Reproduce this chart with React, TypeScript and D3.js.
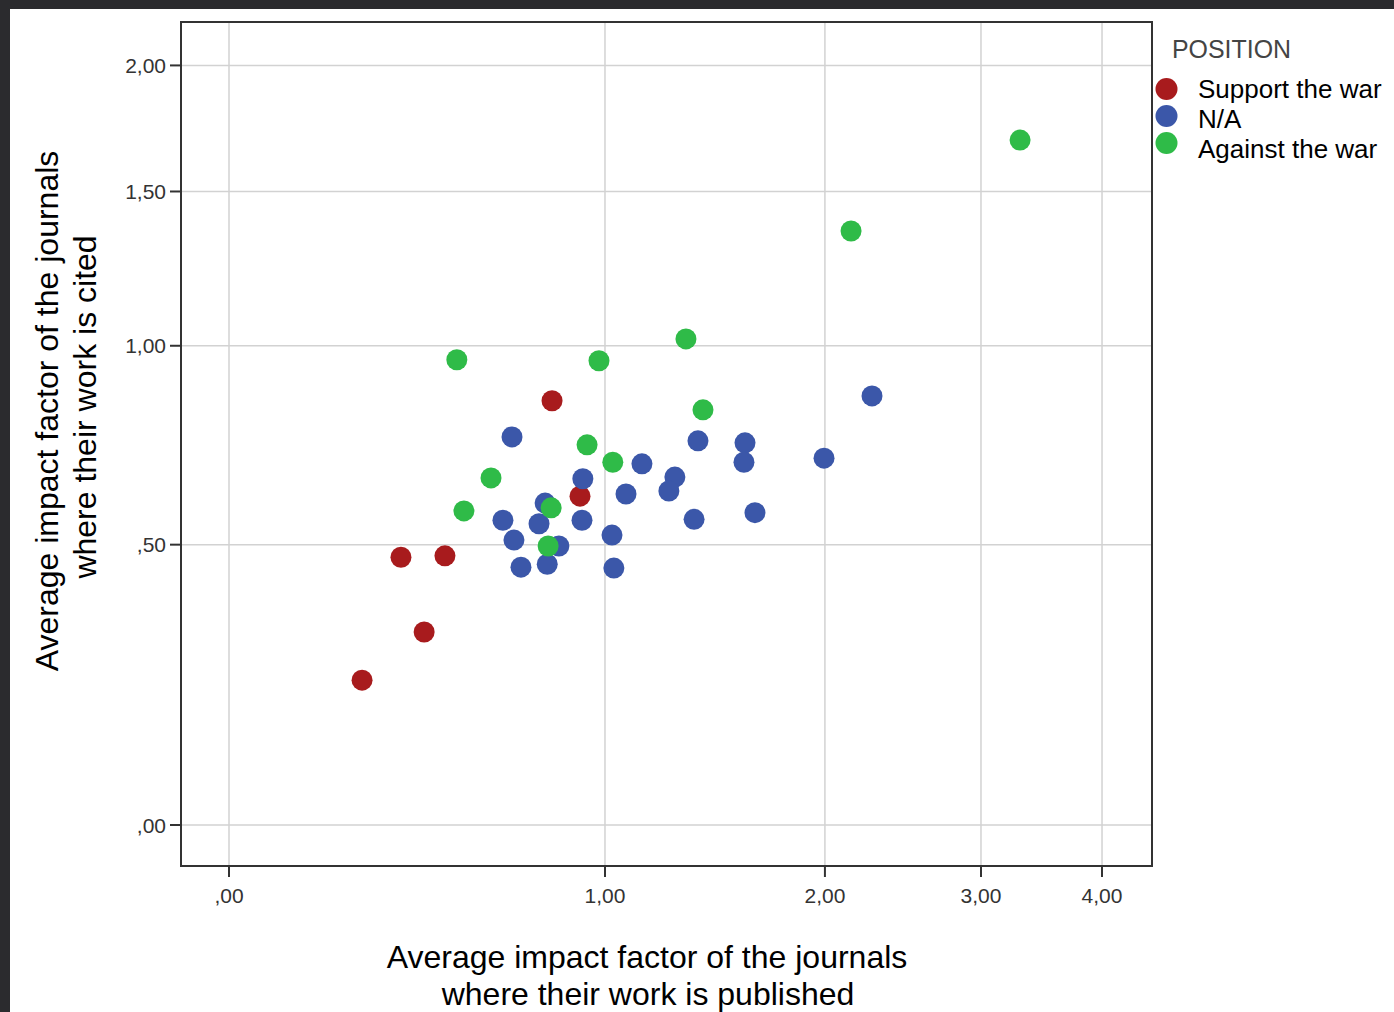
import React from "react";
import * as d3 from "d3";

const supportX = [0.814, 0.91, 0.373, 0.489, 0.433, 0.278];
const supportY = [0.847, 0.609, 0.473, 0.476, 0.322, 0.233];

const naX = [0.685, 0.92, 0.791, 0.657, 0.771, 0.917, 0.691, 0.837, 0.798, 0.713, 1.026, 1.033, 1.079, 1.141, 1.374, 1.589, 1.584, 1.995, 1.275, 1.25, 1.357, 1.637, 2.272];
const naY = [0.753, 0.65, 0.593, 0.554, 0.546, 0.554, 0.51, 0.497, 0.458, 0.452, 0.521, 0.45, 0.614, 0.686, 0.743, 0.738, 0.69, 0.7, 0.654, 0.621, 0.556, 0.571, 0.86];

const againstX = [0.522, 0.978, 1.322, 2.148, 3.299, 0.935, 1.029, 1.396, 0.621, 0.542, 0.811, 0.801];
const againstY = [0.96, 0.957, 1.02, 1.361, 1.693, 0.733, 0.69, 0.823, 0.652, 0.575, 0.582, 0.497];

const xTicks = [0, 1, 2, 3, 4];
const xTickLabels = [",00", "1,00", "2,00", "3,00", "4,00"];
const yTicks = [0, 0.5, 1, 1.5, 2];
const yTickLabels = [",00", ",50", "1,00", "1,50", "2,00"];

const seriesNames = ["Support the war", "N/A", "Against the war"];
const seriesColors = ["#a81b1d", "#3b57a9", "#2fbb48"];

const W = 1394;
const H = 1012;
const L = 181, R = 1152, T = 22, B = 866;
const FONT = "'Liberation Sans', Arial, sans-serif";

export default function App() {
  const x = d3.scaleSymlog().constant(1).domain([0, 4]).range([229, 229 + 1249 * Math.log10(5)]);
  const y = d3.scaleSymlog().constant(1).domain([0, 2]).range([825, 825 - 1592 * Math.log10(3)]);

  const series = [
    { xs: supportX, ys: supportY },
    { xs: naX, ys: naY },
    { xs: againstX, ys: againstY },
  ];

  return (
    <svg width={W} height={H} style={{ position: "absolute", left: 0, top: 0 }} fontFamily={FONT}>
      <rect x={0} y={0} width={W} height={H} fill="#2b2b2e" />
      <rect x={10} y={9} width={W - 10} height={H - 9} fill="#ffffff" />
      {xTicks.map((t) => (
        <line key={"gx" + t} x1={x(t)} x2={x(t)} y1={T} y2={B} stroke="#d2d2d2" strokeWidth={1.5} />
      ))}
      {yTicks.map((t) => (
        <line key={"gy" + t} x1={L} x2={R} y1={y(t)} y2={y(t)} stroke="#d2d2d2" strokeWidth={1.5} />
      ))}
      {series.map((s, si) =>
        s.xs.map((v, i) => (
          <circle key={si + "-" + i} cx={x(v)} cy={y(s.ys[i])} r={10.5} fill={seriesColors[si]} />
        ))
      )}
      <rect x={L} y={T} width={R - L} height={B - T} fill="none" stroke="#333" strokeWidth={2} />
      {yTicks.map((t, i) => (
        <g key={"yt" + t}>
          <line x1={L - 11} x2={L} y1={y(t)} y2={y(t)} stroke="#333" strokeWidth={2} />
          <text x={L - 15} y={y(t)} dy="0.36em" textAnchor="end" fontSize={21} fill="#333">
            {yTickLabels[i]}
          </text>
        </g>
      ))}
      {xTicks.map((t, i) => (
        <g key={"xt" + t}>
          <line x1={x(t)} x2={x(t)} y1={B} y2={B + 11} stroke="#333" strokeWidth={2} />
          <text x={x(t)} y={B + 29} dy="0.36em" textAnchor="middle" fontSize={21} fill="#333">
            {xTickLabels[i]}
          </text>
        </g>
      ))}
      <text x={647} y={968} textAnchor="middle" fontSize={32} fill="#000">
        Average impact factor of the journals
      </text>
      <text x={648} y={1005} textAnchor="middle" fontSize={32} fill="#000">
        where their work is published
      </text>
      <g transform="translate(58,411) rotate(-90)">
        <text x={0} y={0} textAnchor="middle" fontSize={32} fill="#000">
          Average impact factor of the journals
        </text>
        <text x={4} y={38} textAnchor="middle" fontSize={32} fill="#000">
          where their work is cited
        </text>
      </g>
      <text x={1172} y={58} fontSize={26} fill="#444" textLength={119} lengthAdjust="spacingAndGlyphs">
        POSITION
      </text>
      {seriesNames.map((n, i) => (
        <g key={n}>
          <circle cx={1166.5} cy={89 + i * 27} r={11} fill={seriesColors[i]} />
          <text x={1198} y={98 + i * 30} fontSize={26} fill="#000">
            {n}
          </text>
        </g>
      ))}
    </svg>
  );
}
